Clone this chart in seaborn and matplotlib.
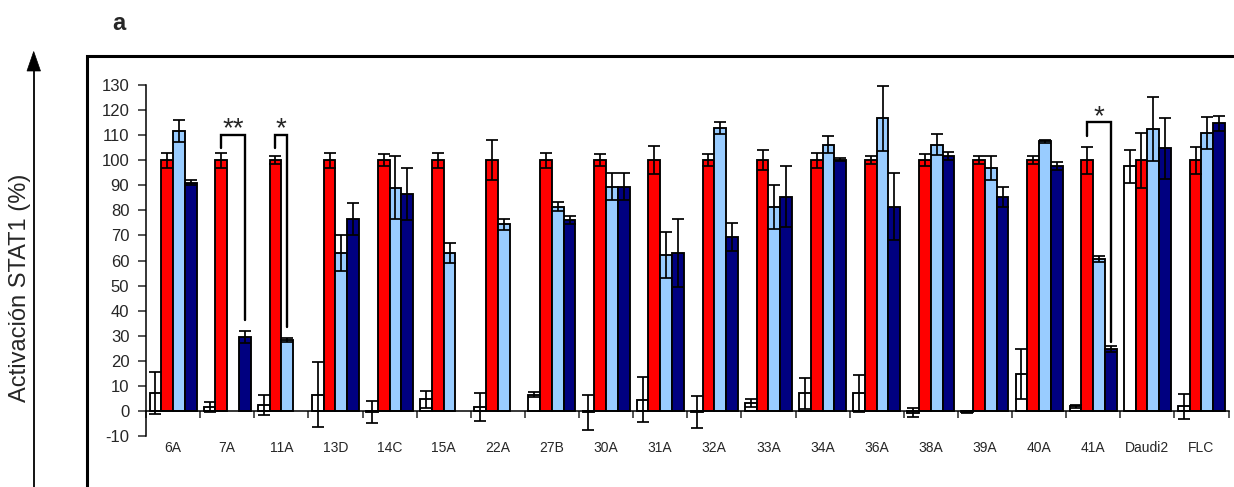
import numpy as np
import pandas as pd
import matplotlib
matplotlib.use("Agg")
import matplotlib.pyplot as plt
from matplotlib.lines import Line2D
from matplotlib.patches import Polygon
import seaborn as sns

# ---- data -------------------------------------------------------------
categories = ["6A", "7A", "11A", "13D", "14C", "15A", "22A", "27B", "30A", "31A",
              "32A", "33A", "34A", "36A", "38A", "39A", "40A", "41A", "Daudi2", "FLC"]
series = ["Serie 1", "Serie 2", "Serie 3", "Serie 4"]

nan = np.nan
serie1 = [7.1, 1.5, 2.4, 6.4, -0.5, 4.7, 1.5, 6.4, -0.5, 4.5,
          -0.5, 3.1, 7.0, 7.0, -0.7, -0.3, 14.6, 1.8, 97.5, 1.9]
serie1_err = [8.5, 2.0, 4.0, 13.0, 4.4, 3.4, 5.5, 1.0, 7.0, 9.0,
              6.3, 1.6, 6.3, 7.5, 1.8, 0.4, 10.0, 0.7, 6.5, 5.0]
serie2 = [100.0] * 20
serie2_err = [3.0, 3.0, 1.5, 3.0, 2.4, 3.0, 8.0, 3.0, 2.4, 5.5,
              2.5, 4.0, 3.0, 1.5, 2.4, 1.5, 1.5, 5.4, 11.0, 5.4]
serie3 = [111.7, nan, 28.2, 63.0, 89.0, 63.0, 74.4, 81.5, 89.5, 62.2,
          112.7, 81.5, 106.2, 116.7, 106.2, 96.9, 107.5, 60.6, 112.6, 111.0]
serie3_err = [4.3, nan, 0.7, 7.3, 12.5, 4.0, 2.3, 1.7, 5.5, 9.0,
              2.4, 8.8, 3.3, 13.0, 4.2, 4.6, 0.7, 1.3, 12.8, 6.4]
serie4 = [91.0, 29.5, nan, 76.7, 86.6, nan, nan, 76.0, 89.5, 63.1,
          69.5, 85.5, 100.2, 81.5, 101.7, 85.5, 97.6, 24.7, 104.7, 114.7]
serie4_err = [1.0, 2.5, nan, 6.4, 10.3, nan, nan, 1.6, 5.5, 13.6,
              5.6, 12.0, 0.6, 13.5, 1.5, 4.0, 1.6, 1.0, 12.0, 3.0]

colors = ["#FFFFFF", "#FF0000", "#99CCFF", "#000080"]

# significance brackets: group, left series, right series, bracket top,
# left leg bottom, right leg bottom, label
sig_groups = ["7A", "11A", "41A"]
sig_left = [1, 1, 1]
sig_right = [3, 2, 3]
sig_top = [110.2, 110.2, 115.1]
sig_left_bottom = [105.0, 105.0, 109.8]
sig_right_bottom = [36.2, 33.5, 27.5]
sig_labels = ["**", "*", "*"]

# ---- long-form table --------------------------------------------------
values = [serie1, serie2, serie3, serie4]
errors = [serie1_err, serie2_err, serie3_err, serie4_err]
df = pd.DataFrame({
    "grupo": np.tile(categories, len(series)),
    "serie": np.repeat(series, len(categories)),
    "valor": np.concatenate(values),
    "error": np.concatenate(errors),
})

# ---- figure -----------------------------------------------------------
sns.set_style("white")
plt.rcParams["font.family"] = ["Liberation Sans", "DejaVu Sans"]
plt.rcParams["axes.unicode_minus"] = False

W, H = 1234, 487
fig = plt.figure(figsize=(W / 100, H / 100), dpi=100)
ax = fig.add_axes([146 / W, 51 / H, (1228.5 - 146) / W, (436 - 85) / H])

total_w = 0.87
bar_w = total_w / len(series)

sns.barplot(data=df, x="grupo", y="valor", hue="serie",
            order=categories, hue_order=series, palette=colors, saturation=1,
            width=total_w, gap=0, dodge=True, errorbar=None,
            edgecolor="black", linewidth=1.35, legend=False, ax=ax, zorder=2)

# error bars on top of each bar
for j in range(len(series)):
    xs = np.arange(len(categories)) + (j - 1.5) * bar_w
    v = np.array(values[j], dtype=float)
    e = np.array(errors[j], dtype=float)
    ok = ~np.isnan(v)
    ax.errorbar(xs[ok], v[ok], yerr=e[ok], fmt="none", ecolor="black",
                elinewidth=1.25, capsize=4.2, capthick=1.25, zorder=3)

# significance brackets
for g, jl, jr, top, lb, rb, lab in zip(sig_groups, sig_left, sig_right, sig_top,
                                       sig_left_bottom, sig_right_bottom, sig_labels):
    i = categories.index(g)
    xl = i + (jl - 1.5) * bar_w
    xr = i + (jr - 1.5) * bar_w
    ax.plot([xl, xl, xr, xr], [lb, top, top, rb], color="black", lw=1.7,
            solid_joinstyle="miter", zorder=4)
    ax.text((xl + xr) / 2, top - 0.6, lab, ha="center", va="baseline",
            fontsize=20, zorder=4)

# axes styling
ax.set_xlim(-0.5, len(categories) - 0.5)
ax.set_ylim(-10, 130)
ax.set_yticks(np.arange(-10, 131, 10))
ax.tick_params(axis="y", direction="out", length=6, width=1.1, pad=6,
               labelsize=12, left=True)
ax.set_xticks(np.arange(-0.5, len(categories)), labels=[""] * (len(categories) + 1))
ax.set_xticks(np.arange(len(categories)), labels=categories, minor=True)
ax.tick_params(axis="x", which="major", direction="out", length=5, width=1.1,
               bottom=True)
ax.tick_params(axis="x", which="minor", length=0, pad=22, labelsize=10)

for s in ["top", "right"]:
    ax.spines[s].set_visible(False)
ax.spines["left"].set_linewidth(1.1)
ax.spines["bottom"].set_linewidth(1.1)
ax.spines["bottom"].set_position(("data", 0))
ax.spines["left"].set_color("black")
ax.spines["bottom"].set_color("black")
ax.set_xlabel("")
ax.set_ylabel("Activación STAT1 (%)", fontsize=17, va="center")
ax.yaxis.set_label_coords((20 - 146) / (1228.5 - 146), (436 - 288) / (436 - 85))

# panel frame (open at right and bottom)
def fx(px):
    return px / W

def fy(py):
    return 1 - py / H

fig.add_artist(Line2D([fx(86.5), fx(86.5), fx(1233)], [fy(500), fy(55.5), fy(55.5)],
                      color="black", lw=2.2, solid_joinstyle="miter",
                      transform=fig.transFigure))

# vertical arrow along the y label
fig.add_artist(Line2D([fx(33.5), fx(33.5)], [fy(500), fy(68)], color="black",
                      lw=1.3, transform=fig.transFigure))
fig.add_artist(Polygon([(fx(27.0), fy(71)), (fx(40.5), fy(71)), (fx(33.7), fy(51.5))],
                       closed=True, facecolor="black", edgecolor="black", lw=0.5,
                       transform=fig.transFigure))

fig.text(fx(118.5), fy(23), "a", fontsize=17, fontweight="bold",
         ha="center", va="center")

fig.savefig("out.png", dpi=100)
